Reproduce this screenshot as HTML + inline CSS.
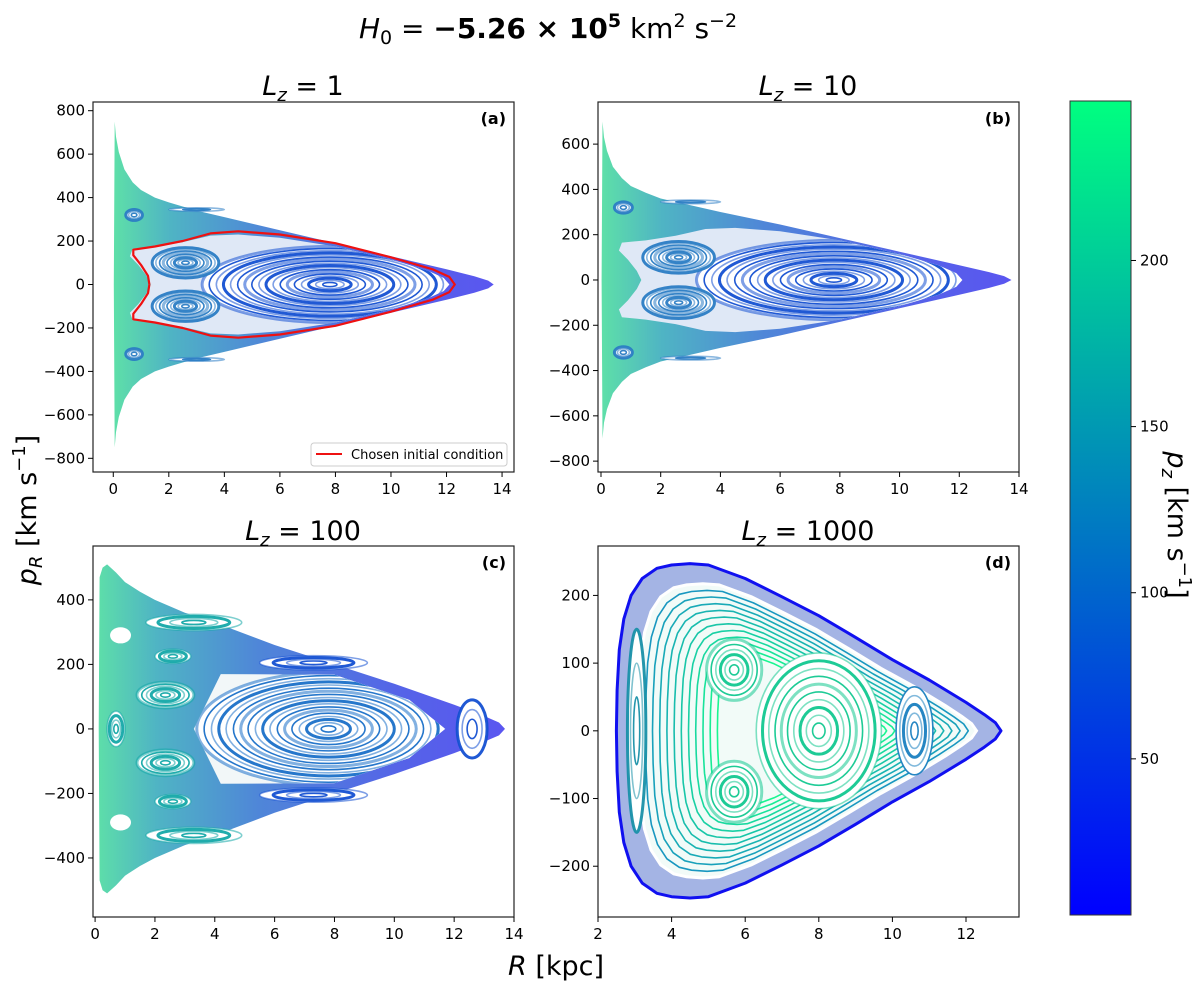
<!DOCTYPE html>
<html><head><meta charset="utf-8"><style>
html,body{margin:0;padding:0;background:#fff;}
svg text{font-family:"DejaVu Sans","Liberation Sans",sans-serif;fill:#000;}
</style></head><body>
<svg id="fig" width="1200" height="987" viewBox="0 0 1200 987" xmlns="http://www.w3.org/2000/svg">
<defs>
<linearGradient id="cbgrad" x1="0" y1="1" x2="0" y2="0">
<stop offset="0" stop-color="#0000ff"/><stop offset="1" stop-color="#00ff80"/></linearGradient>
</defs>
<text x="548" y="38" font-size="28" text-anchor="middle"><tspan font-style="italic">H</tspan><tspan font-size="19" dy="6">0</tspan><tspan dy="-6"> = </tspan><tspan font-weight="bold">−5.26 × 10</tspan><tspan font-weight="bold" font-size="19" dy="-11">5</tspan><tspan dy="11"> km</tspan><tspan font-size="19" dy="-11">2</tspan><tspan dy="11"> s</tspan><tspan font-size="19" dy="-11">−2</tspan></text>
<g id="panels"></g>
<text transform="translate(36,510) rotate(-90)" font-size="27" text-anchor="middle"><tspan font-style="italic">p</tspan><tspan font-style="italic" font-size="18" dy="6">R</tspan><tspan dy="-6"> [km s</tspan><tspan font-size="18" dy="-11">−1</tspan><tspan dy="11">]</tspan></text>
<text x="556" y="975" font-size="27" text-anchor="middle"><tspan font-style="italic">R</tspan> [kpc]</text>
<g id="colorbar">
<rect x="1070" y="101" width="61" height="814" fill="url(#cbgrad)" stroke="#333" stroke-width="1"/>
</g>
<text transform="translate(1168,525) rotate(90)" font-size="27" text-anchor="middle"><tspan font-style="italic">p</tspan><tspan font-style="italic" font-size="18" dy="6">z</tspan><tspan dy="-6"> [km s</tspan><tspan font-size="18" dy="-11">−1</tspan><tspan dy="11">]</tspan></text>
</svg>
<script>
// ---------- data ----------
const envA_R = [0.02,0.05,0.1,0.2,0.4,0.7,1,1.5,2,3,4,6,8,10,12,13,13.5,13.7];
const envA_P = [0,750,680,610,530,470,435,400,378,340,310,250,190,130,70,38,18,0];
const envB_R = [0.02,0.05,0.1,0.2,0.4,0.7,1,1.5,2,3,4,6,8,10,12,13,13.5,13.75];
const envB_P = [0,700,630,570,500,450,415,385,360,330,300,245,185,125,65,35,17,0];
const envC_R = [0.12,0.15,0.25,0.4,0.7,1,1.5,2,3,4,6,8,10,12,13,13.5,13.7];
const envC_P = [0,470,500,510,485,455,425,400,360,330,260,200,140,75,40,20,0];
const envD_R = [2.5,2.52,2.58,2.7,2.9,3.2,3.6,4,4.5,5,6,7,8,9,10,11,12,12.5,12.8,12.95];
const envD_P = [0,60,120,165,200,225,240,245,247,245,225,198,170,138,105,75,42,24,12,0];
const redR = [1.3,1.25,1.0,0.72,0.72,1.5,2.5,3.5,4.5,6,8,10,11.5,12.1,12.3];
const redP = [0,40,90,135,160,175,200,235,245,230,190,125,70,35,0];
const regR = [1.35,1.2,0.9,0.6,0.7,1.5,2.5,3.5,4.5,6,8,10,11.3,11.9,12.1];
const regP = [0,40,90,130,165,175,195,225,230,215,175,115,65,30,0];
const islA_R = [7.8,2.6,2.6,0.75,0.75,3.0,3.0];
const islA_P = [0,100,-100,320,-320,345,-345];
const islA_W = [4.6,1.2,1.2,0.3,0.3,1.0,1.0];
const islA_H = [175,70,70,25,25,8,8];
const islA_N = [18,9,9,3,3,2,2];
const islC_R = [7.8,2.35,2.35,2.6,2.6,0.7,0.85,0.85,7.3,7.3,3.3,3.3,12.6];
const islC_P = [0,105,-105,225,-225,0,290,-290,205,-205,330,-330,0];
const islC_W = [4.4,0.95,0.95,0.6,0.6,0.3,0.35,0.35,1.8,1.8,1.6,1.6,0.5];
const islC_H = [175,40,40,22,22,55,25,25,22,22,25,25,90];
const islC_N = [18,6,6,4,4,4,0,0,4,4,4,4,3];
const islD_R = [8.0,5.7,5.7,10.6,3.05];
const islD_P = [0,90,-90,0,0];
const islD_W = [1.7,0.75,0.75,0.5,0.25];
const islD_H = [115,45,45,65,150];
const islD_N = [10,6,6,5,3];
const dScales = [0.84,0.8,0.76,0.72,0.68,0.64,0.6,0.56,0.52,0.48,0.44];
const cbTicks = [50,100,150,200];
const cbMin = 3, cbMax = 248;

const NS = "http://www.w3.org/2000/svg";
function mk(tag, attrs, parent){const e=document.createElementNS(NS,tag);for(const k in attrs)e.setAttribute(k,attrs[k]);if(parent)parent.appendChild(e);return e;}
function winter(t){t=Math.max(0,Math.min(1,t));return `rgb(0,${Math.round(255*t)},${Math.round(255-127*t)})`;}

const panels = [
 {id:'a',box:[93,102,514,472],xd:[-0.73,14.43],yd:[-863,840],xt:[0,2,4,6,8,10,12,14],yt:[-800,-600,-400,-200,0,200,400,600,800],title:'1',tx:303,ty:95},
 {id:'b',box:[598,102,1019,472],xd:[-0.1,14.0],yd:[-848,786],xt:[0,2,4,6,8,10,12,14],yt:[-800,-600,-400,-200,0,200,400,600],title:'10',tx:808,ty:95},
 {id:'c',box:[93,546,514,917],xd:[-0.07,14.0],yd:[-583,567],xt:[0,2,4,6,8,10,12,14],yt:[-400,-200,0,200,400],title:'100',tx:303,ty:540},
 {id:'d',box:[598,546,1019,917],xd:[2,13.44],yd:[-275,273],xt:[2,4,6,8,10,12],yt:[-200,-100,0,100,200],title:'1000',tx:808,ty:540}
];
const root = document.getElementById('panels');

function envPath(sx,sy,R,P,scale,cR){
  let pts=[];
  for(let i=0;i<R.length;i++)pts.push([cR+(R[i]-cR)*scale,P[i]*scale]);
  for(let i=R.length-1;i>=0;i--)pts.push([cR+(R[i]-cR)*scale,-P[i]*scale]);
  return 'M'+pts.map(p=>sx(p[0]).toFixed(1)+','+sy(p[1]).toFixed(1)).join('L')+'Z';
}
function ellPath(sx,sy,cx,cy,w,h){
  const x=sx(cx),y=sy(cy),rx=Math.abs(sx(cx+w)-sx(cx)),ry=Math.abs(sy(cy+h)-sy(cy));
  return {cx:x,cy:y,rx:rx,ry:ry};
}
function drawIsland(parent,sx,sy,R,P,W,H,N,i,col){
  const e=ellPath(sx,sy,R[i],P[i],W[i],H[i]);
  const base=mk('ellipse',{cx:e.cx,cy:e.cy,rx:e.rx,ry:e.ry,fill:'#fff'},parent);
  
  
  for(let k=1;k<=N[i];k++){
    const f=k/N[i];
    mk('ellipse',{cx:e.cx,cy:e.cy,rx:e.rx*f,ry:e.ry*f,fill:'none',stroke:col,'stroke-width':(k%3===0?3:1.6),'stroke-opacity':(k%2?0.95:0.55)},parent);
  }
}

panels.forEach(p=>{
  const [x0,y0,x1,y1]=p.box;
  const sx=v=>x0+(v-p.xd[0])/(p.xd[1]-p.xd[0])*(x1-x0);
  const sy=v=>y1-(v-p.yd[0])/(p.yd[1]-p.yd[0])*(y1-y0);
  const g=mk('g',{},root);
  
  
  const clip=mk('clipPath',{id:'clip'+p.id},g);
  mk('rect',{x:x0,y:y0,width:x1-x0,height:y1-y0},clip);
  const grad=mk('linearGradient',{id:'sea'+p.id,gradientUnits:'userSpaceOnUse',x1:sx(0),y1:0,x2:sx(13.7),y2:0},g);
  [['0','#5ee0a8'],['0.15','#4fb4c4'],['0.4','#4f86d8'],['0.75','#5563e8'],['1','#5a56f0']].forEach(s=>mk('stop',{offset:s[0],'stop-color':s[1]},grad));
  const plot=mk('g',{'clip-path':`url(#clip${p.id})`},g);
  
  

  if(p.id!=='d'){
    const R = p.id==='a'?envA_R:p.id==='b'?envB_R:envC_R;
    const P = p.id==='a'?envA_P:p.id==='b'?envB_P:envC_P;
    const sea=mk('path',{d:envPath(sx,sy,R,P,1,0),fill:`url(#sea${p.id})`},plot);
    
    
    let isl, regD;
    if(p.id==='c'){
      isl=[islC_R,islC_P,islC_W,islC_H,islC_N];
      regD=`M${sx(3.3)},${sy(0)}L${sx(4.2)},${sy(170)}L${sx(8)},${sy(168)}L${sx(10.5)},${sy(90)}L${sx(11.7)},${sy(0)}L${sx(10.5)},${sy(-90)}L${sx(8)},${sy(-168)}L${sx(4.2)},${sy(-170)}Z`;
    } else {
      isl=[islA_R,islA_P,islA_W,islA_H,islA_N];
      regD=envPath(sx,sy,regR,regP,1,0);
    }
    const rc=mk('clipPath',{id:'reg'+p.id},g);
    mk('path',{d:regD},rc);
    const reg=mk('path',{d:regD,fill:p.id==='c'?'#f2f7f8':'#dfe8f6'},plot);
    
    
    const inner=mk('g',{'clip-path':`url(#reg${p.id})`},plot);
    
    
    for(let i=0;i<isl[0].length;i++){
      const inside = p.id==='c' ? i===0 : i<3;
      const col = (isl[0][i]>5)?(p.id==='c'&&i===0?'#1a70c8':'#1450d2'):(p.id==='c'?'#14a8a8':'#2a7cc4');
      drawIsland(inside?inner:plot,sx,sy,isl[0],isl[1],isl[2],isl[3],isl[4],i,col);
    }
    if(p.id==='a'){
      const pts=[];
      for(let i=0;i<redR.length;i++)pts.push([redR[i],redP[i]]);
      for(let i=redR.length-2;i>=0;i--)pts.push([redR[i],-redP[i]]);
      const red=mk('path',{d:'M'+pts.map(q=>sx(q[0]).toFixed(1)+','+sy(q[1]).toFixed(1)).join('L'),fill:'none',stroke:'#ee1111','stroke-width':2.2,'stroke-linejoin':'round'},plot);
      
      
    }
  } else {
    const band=mk('path',{d:envPath(sx,sy,envD_R,envD_P,1,7.4),fill:'#a4b4e4',stroke:'none'},plot);
    
    
    const core=mk('path',{d:envPath(sx,sy,envD_R,envD_P,0.88,7.4),fill:'#f2fbf8',stroke:'#ffffff','stroke-width':3},plot);
    
    
    for(let k=0;k<dScales.length;k++){
      const s=dScales[k];
      const c=mk('path',{d:envPath(sx,sy,envD_R,envD_P,s,7.4),fill:'none',stroke:winter(0.55+0.45*k/dScales.length),'stroke-width':1.6,'stroke-opacity':0.9,'stroke-linejoin':'round'},plot);
      
      
    }
    const outer=mk('path',{d:envPath(sx,sy,envD_R,envD_P,1,7.4),fill:'none',stroke:'#1010f0','stroke-width':3,'stroke-linejoin':'round'},plot);
    
    
    for(let i=0;i<islD_R.length;i++){
      const col=islD_R[i]>10?'#1a80c0':(islD_R[i]<4?'#1890a8':'#12c890');
      drawIsland(plot,sx,sy,islD_R,islD_P,islD_W,islD_H,islD_N,i,col);
    }
  }
  const fr=mk('rect',{x:x0,y:y0,width:x1-x0,height:y1-y0,fill:'none',stroke:'#222','stroke-width':1.2},g);
  
  
  p.xt.forEach(v=>{
    const x=sx(v);
    mk('line',{x1:x,y1:y1,x2:x,y2:y1+5,stroke:'#000','stroke-width':1},g);
    const t=mk('text',{x:x,y:y1+22,'font-size':15,'text-anchor':'middle'},g);
    t.textContent=String(v);
    
    
  });
  p.yt.forEach(v=>{
    const y=sy(v);
    mk('line',{x1:x0-5,y1:y,x2:x0,y2:y,stroke:'#000','stroke-width':1},g);
    const t=mk('text',{x:x0-8,y:y+5,'font-size':15,'text-anchor':'end'},g);
    t.textContent=(v<0?'−'+(-v):String(v));
    
    
  });
  const lab=mk('text',{x:x1-8,y:y0+22,'font-size':16,'font-weight':'bold','text-anchor':'end'},g);
  lab.textContent='('+p.id+')';
  
  
  const tt=mk('text',{x:p.tx,y:p.ty,'font-size':27,'text-anchor':'middle'},g);
  
  
  tt.innerHTML='<tspan font-style="italic">L</tspan><tspan font-style="italic" font-size="18" dy="6">z</tspan><tspan dy="-6"> = '+p.title+'</tspan>';
  if(p.id==='a'){
    const lg=mk('g',{},g);
    
    
    mk('rect',{x:311,y:443,width:196,height:23,rx:3,fill:'#fff',stroke:'#ccc'},lg);
    mk('line',{x1:316,y1:454,x2:342,y2:454,stroke:'#ee1111','stroke-width':2},lg);
    const lt=mk('text',{x:351,y:459,'font-size':13},lg);
    lt.textContent='Chosen initial condition';
    
    
  }
});
const cb=document.getElementById('colorbar');
const cy=v=>915-(v-cbMin)/(cbMax-cbMin)*814;
cbTicks.forEach(v=>{
  mk('line',{x1:1131,y1:cy(v),x2:1136,y2:cy(v),stroke:'#000'},cb);
  const t=mk('text',{x:1140,y:cy(v)+5,'font-size':15},cb);
  t.textContent=String(v);
  
  
});
</script>
</body></html>
